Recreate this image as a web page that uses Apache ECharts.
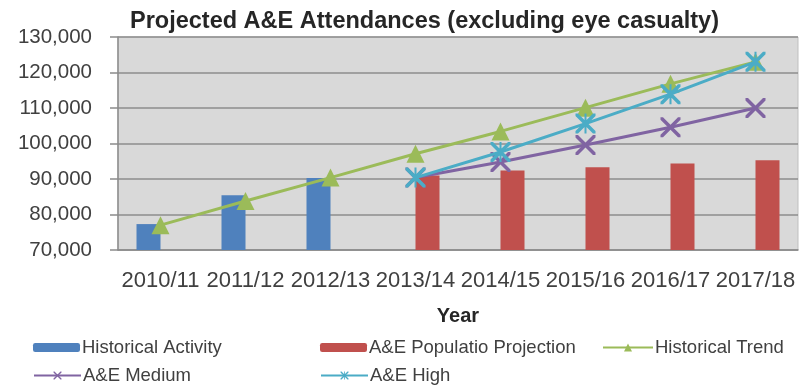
<!DOCTYPE html>
<html><head><meta charset="utf-8">
<script src="https://cdn.jsdelivr.net/npm/echarts@6/dist/echarts.min.js"></script>
<style>html,body{margin:0;padding:0;background:#fff}#c{width:804px;height:385px}</style>
</head><body><div id="c"></div>
<script>
var years = ['2010/11','2011/12','2012/13','2013/14','2014/15','2015/16','2016/17','2017/18'];
var historicalActivity = [77300, 85400, 90300, null, null, null, null, null];
var populationProjection = [null, null, null, 91000, 92400, 93300, 94400, 95300];
var historicalTrend = [77000, 83800, 90400, 97100, 103400, 110100, 116800, 123000];
var aeMedium = [null, null, null, 90400, 94800, 99600, 104600, 110000];
var aeHigh = [null, null, null, 90400, 97600, 105600, 113900, 123000];
var yTicks = {min: 70000, max: 130000, interval: 10000};

var xPath = 'path://M0,0 L2.5,0 L10,7.5 L17.5,0 L20,0 L20,2.5 L12.5,10 L20,17.5 L20,20 L17.5,20 L10,12.5 L2.5,20 L0,20 L0,17.5 L7.5,10 L0,2.5 Z';
var starPath = xPath + ' M9,0 L11,0 L11,20 L9,20 Z';
var font = '"Liberation Sans", Arial, sans-serif';
var txt = '#404040';

var chart = echarts.init(document.getElementById('c'));
function lg(name, left, top, w, h) {
  return {data: [name], left: left, top: top, itemWidth: w, itemHeight: h, itemGap: 0,
    textStyle: {fontFamily: font, fontSize: 18.5, color: txt, padding: [0,0,0,-3]}, padding: 0, selectedMode: false};
}
chart.setOption({
  animation: false,
  textStyle: {fontFamily: font},
  title: {text: 'Projected A&E Attendances (excluding eye casualty)', left: 125, top: 5,
    textStyle: {fontFamily: font, fontSize: 23.5, fontWeight: 'bold', color: '#262626'}},
  legend: [
    lg('Historical Activity', 33, 338, 47, 9),
    lg('A&E Populatio Projection', 320, 338, 47, 9),
    lg('Historical Trend', 602, 338, 50, 10),
    lg('A&E Medium', 33, 366, 47, 10),
    lg('A&E High', 320, 366, 47, 10)
  ],
  grid: {left: 118, right: 6, top: 37, bottom: 135, show: true, backgroundColor: '#d9d9d9', borderColor: '#bfbfbf', borderWidth: 1},
  xAxis: {type: 'category', data: years, name: 'Year', nameLocation: 'middle', nameGap: 56,
    nameTextStyle: {fontFamily: font, fontSize: 20, fontWeight: 'bold', color: '#262626'},
    axisLine: {lineStyle: {color: '#8c8c8c', width: 1.5}}, axisTick: {show: false},
    axisLabel: {fontFamily: font, fontSize: 22, color: txt, margin: 20, interval: 0}},
  yAxis: {type: 'value', min: yTicks.min, max: yTicks.max, interval: yTicks.interval,
    axisLine: {show: true, lineStyle: {color: '#8c8c8c', width: 1.5}},
    axisTick: {show: true, length: 8, lineStyle: {color: '#8c8c8c', width: 1.5}},
    splitLine: {lineStyle: {color: '#8c8c8c', width: 1.5}},
    axisLabel: {fontFamily: font, fontSize: 20.5, color: txt, margin: 26,
      formatter: function (v) { return v.toLocaleString('en-US'); }}},
  series: [
    {name: 'Historical Activity', type: 'bar', data: historicalActivity, barWidth: 24, barGap: '0%', itemStyle: {color: '#4f81bd'}},
    {name: 'A&E Populatio Projection', type: 'bar', data: populationProjection, barWidth: 24, barGap: '0%', itemStyle: {color: '#c0504d'}},
    {name: 'Historical Trend', type: 'line', data: historicalTrend, symbol: 'triangle', symbolSize: 18,
      lineStyle: {color: '#9bbb59', width: 3}, itemStyle: {color: '#9bbb59'}, z: 3},
    {name: 'A&E Medium', type: 'line', data: aeMedium, symbol: xPath, symbolSize: 20,
      lineStyle: {color: '#8064a2', width: 3}, itemStyle: {color: '#8064a2'}, z: 4},
    {name: 'A&E High', type: 'line', data: aeHigh, symbol: starPath, symbolSize: 20,
      lineStyle: {color: '#4bacc6', width: 3}, itemStyle: {color: '#4bacc6'}, z: 5}
  ]
});
</script></body></html>
